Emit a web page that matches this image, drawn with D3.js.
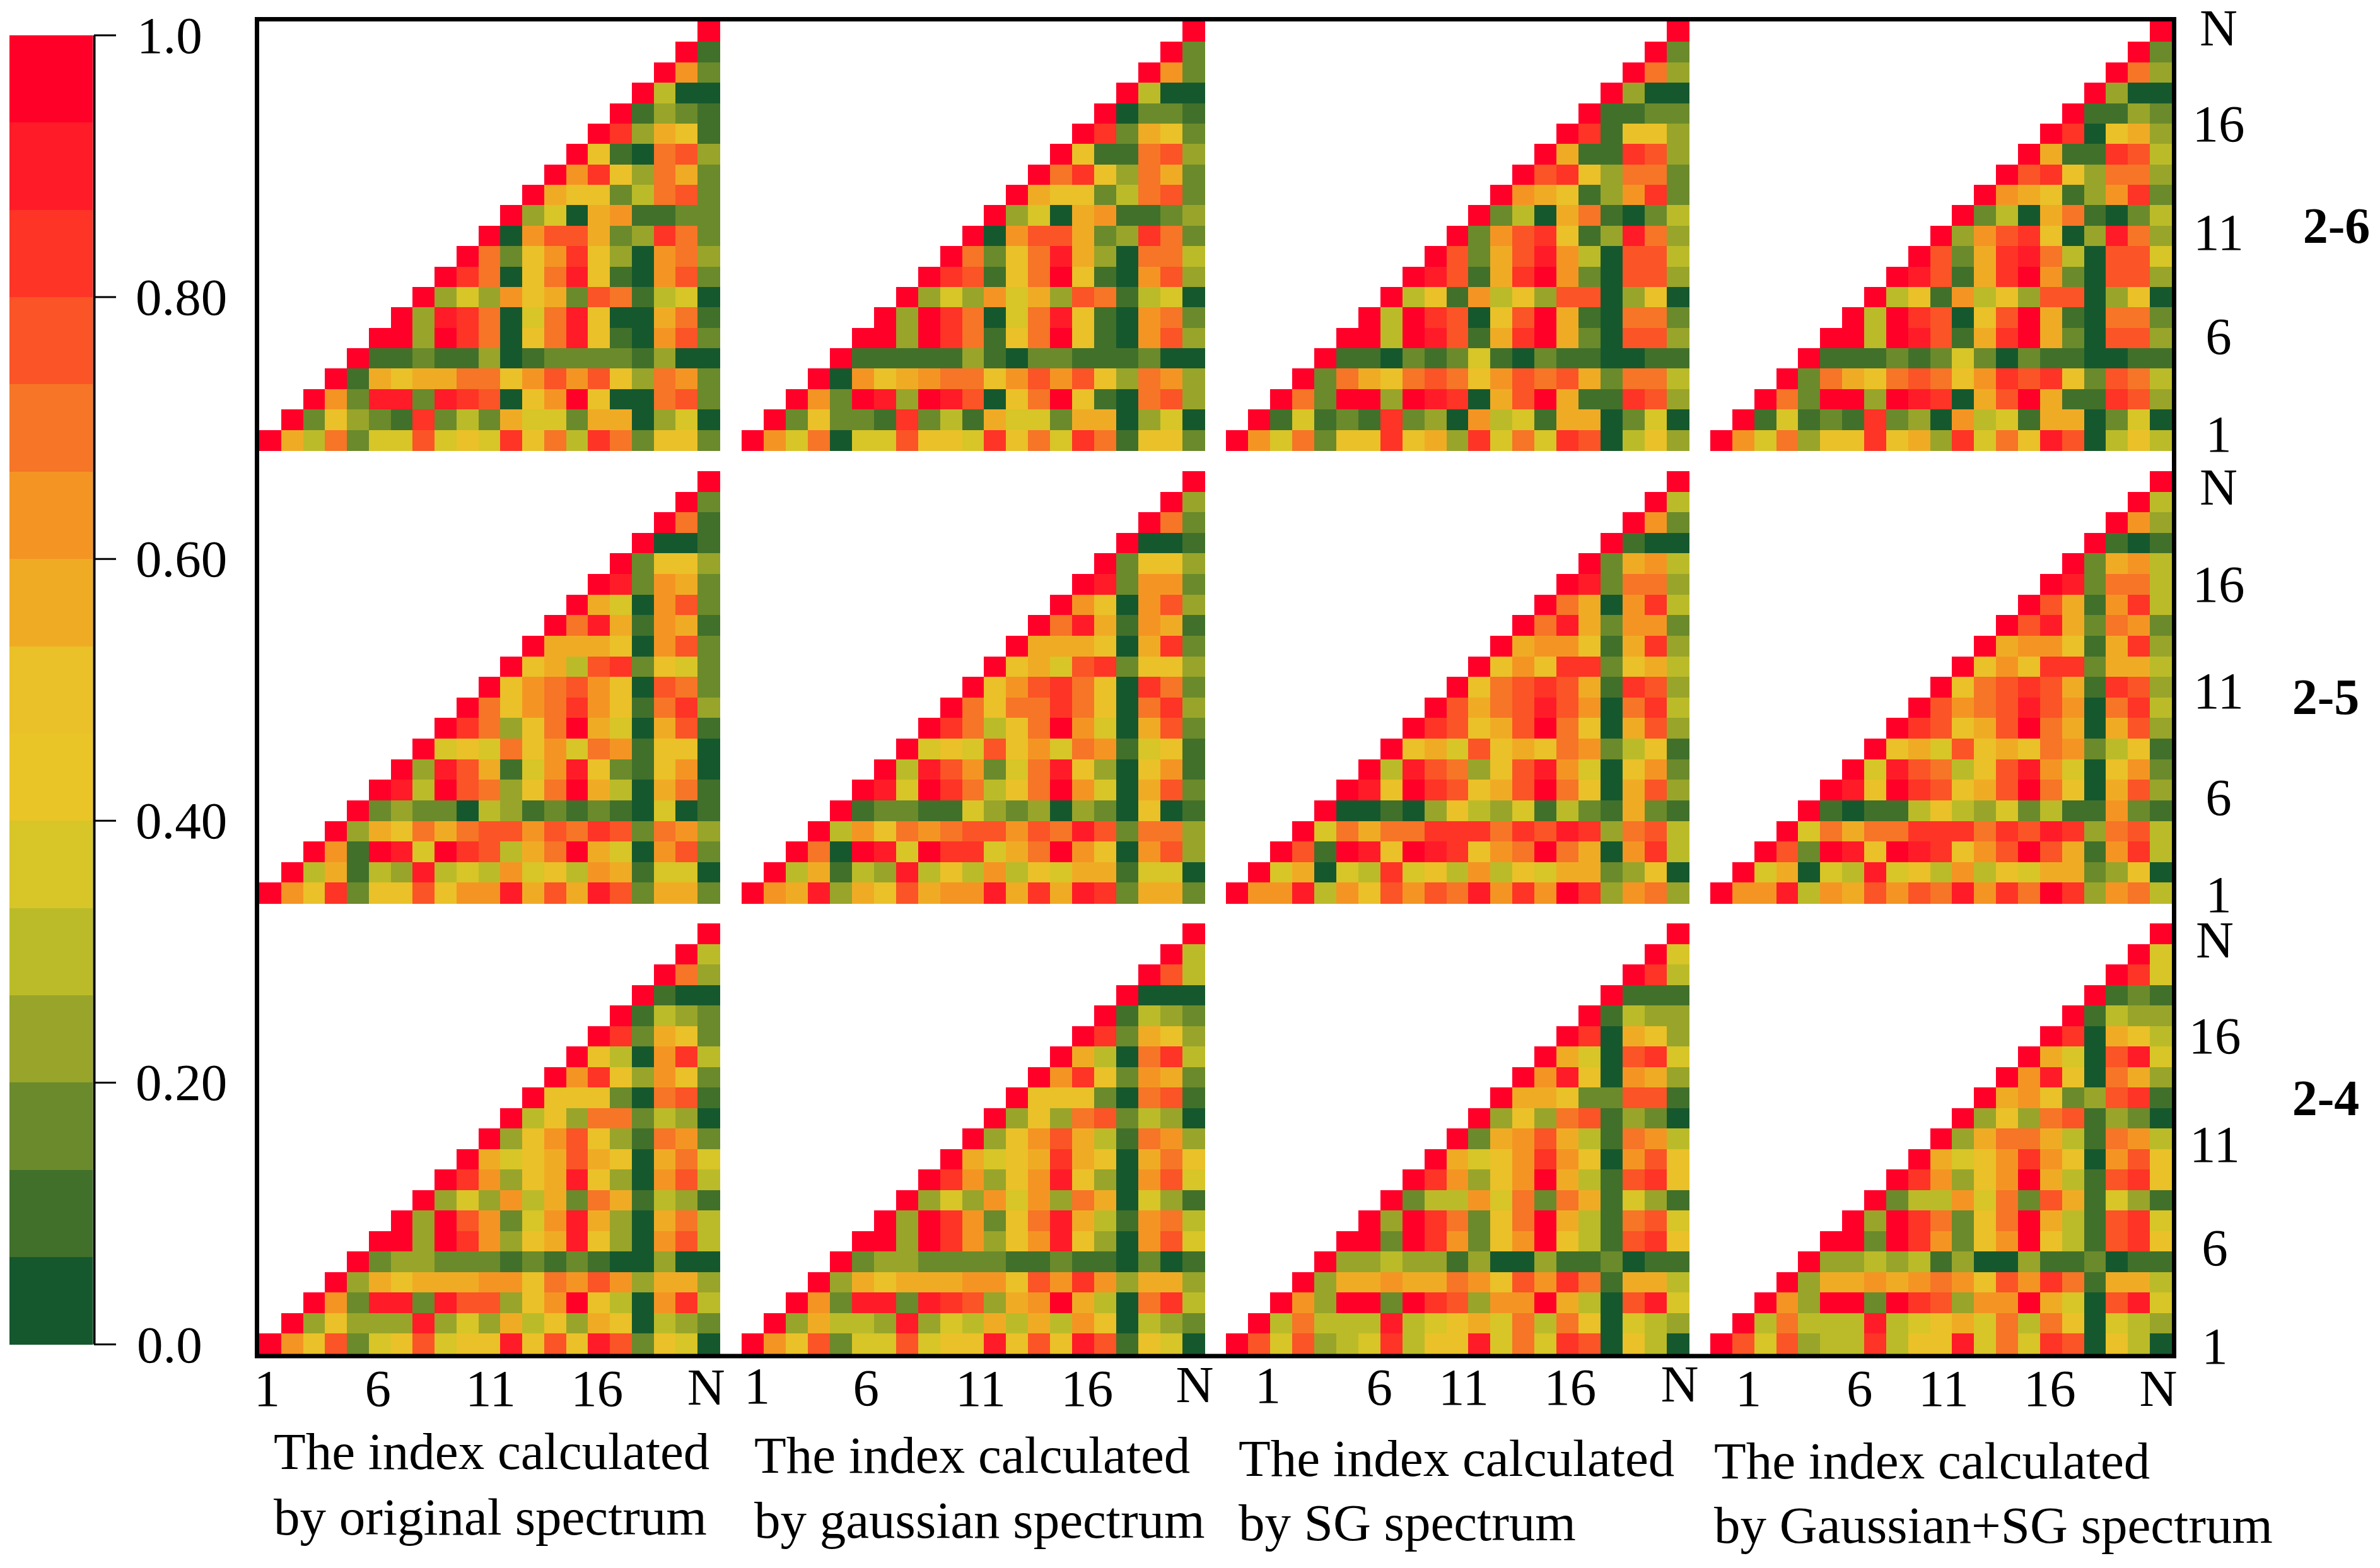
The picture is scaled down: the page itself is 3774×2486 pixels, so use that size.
<!DOCTYPE html>
<html>
<head>
<meta charset="utf-8">
<title>Index heatmaps</title>
<script src="https://cdn.jsdelivr.net/npm/d3@7"></script>
<style>
  html, body { margin: 0; padding: 0; background: #fff; }
  svg { display: block; }
  text { font-family: "Liberation Serif", serif; fill: #000; }
</style>
</head>
<body>
<div id="chart"></div>
<script>
// colour band of each cell (0 = lowest band, 14 = highest band), rows go from N at the top down to 1
const top1 = [[14],[14,1],[14,9,2],[14,4,0,0],[14,1,3,2,1],[14,12,3,8,7,1],[14,7,1,0,10,11,3],[14,9,12,7,3,10,8,2],[14,8,7,7,2,4,10,11,2],[14,3,5,0,8,9,1,1,2,2],[14,0,9,11,11,8,2,3,12,10,2],[14,10,2,7,9,12,7,3,0,9,10,3],[14,12,10,0,7,10,13,7,1,0,9,11,2],[14,3,5,3,9,7,8,2,11,10,1,4,5,0],[14,3,13,12,10,0,5,10,13,7,0,0,8,10,1],[14,14,3,14,12,10,0,7,10,13,7,1,0,9,11,2],[14,1,1,2,1,1,3,0,1,2,2,2,2,1,3,0,0],[14,1,8,7,8,8,10,10,7,9,11,9,11,7,3,10,9,2],[14,9,2,13,13,2,13,12,11,0,7,9,14,7,0,0,10,11,2],[14,2,7,3,2,1,12,2,4,2,8,5,5,2,8,8,0,3,5,0],[14,8,4,10,2,5,5,11,5,7,5,12,7,10,4,12,10,2,7,7,2]];
const top2 = [[14],[14,2],[14,9,2],[14,4,0,0],[14,0,2,2,1],[14,12,2,8,7,2],[14,7,1,1,10,11,3],[14,10,12,7,3,10,8,2],[14,8,7,7,2,4,10,11,2],[14,3,5,0,8,9,1,1,2,3],[14,0,9,11,11,8,2,3,12,10,2],[14,10,2,7,10,13,8,3,0,10,10,4],[14,12,11,1,7,10,14,7,1,0,9,11,3],[14,3,5,3,9,5,8,3,11,10,1,4,5,0],[14,3,14,12,10,0,5,10,13,7,1,0,9,10,2],[14,14,3,14,12,10,1,7,10,14,7,1,0,9,11,3],[14,1,1,1,1,1,3,1,0,2,2,1,1,1,2,0,0],[14,0,9,7,8,9,10,10,7,9,11,9,11,7,3,10,9,3],[14,9,2,14,13,3,14,13,11,0,7,10,14,7,1,0,10,11,3],[14,2,7,2,2,1,12,2,4,1,8,5,5,2,8,8,0,3,5,0],[14,9,5,10,0,5,5,11,7,7,5,12,7,10,5,12,10,1,7,7,2]];
const top3 = [[14],[14,2],[14,10,3],[14,3,0,0],[14,1,1,2,2],[14,12,1,7,7,3],[14,8,1,1,12,11,3],[14,11,12,7,3,10,10,2],[14,9,8,7,1,3,9,12,2],[14,2,4,0,8,10,1,0,2,4],[14,2,9,11,12,7,1,3,13,10,3],[14,11,2,8,11,13,9,4,0,11,11,4],[14,13,11,1,8,12,14,9,2,0,11,11,3],[14,4,7,1,9,4,7,3,11,11,0,3,7,0],[14,4,14,12,11,0,7,11,14,8,1,0,10,10,2],[14,14,4,14,13,11,1,8,12,14,8,2,0,11,11,3],[14,1,1,0,2,1,2,5,1,0,2,1,1,0,0,1,1],[14,2,10,8,7,10,11,10,7,9,11,10,11,8,2,10,10,4],[14,10,2,14,14,3,14,13,12,0,8,11,14,8,1,1,12,11,3],[14,1,5,1,2,1,12,2,3,0,9,4,5,1,8,8,0,2,5,0],[14,9,5,10,2,7,7,12,7,8,3,12,5,10,5,12,11,0,4,7,3]];
const top4 = [[14],[14,2],[14,10,3],[14,3,0,0],[14,1,1,3,2],[14,12,0,7,8,3],[14,8,1,1,12,11,4],[14,11,12,7,3,10,10,3],[14,9,8,7,1,3,9,12,2],[14,2,4,0,8,10,1,0,2,4],[14,3,9,11,12,7,0,3,13,10,3],[14,11,2,8,12,13,10,4,0,11,11,5],[14,13,11,1,8,12,14,9,2,0,11,11,3],[14,4,7,1,9,4,7,3,11,11,0,3,7,0],[14,4,14,12,11,0,7,11,14,8,1,0,10,10,2],[14,14,4,14,13,11,1,8,12,14,8,2,0,11,11,3],[14,1,1,1,2,1,2,5,2,0,2,1,1,0,0,1,1],[14,2,10,8,7,10,11,10,7,9,12,11,12,7,2,11,10,4],[14,10,2,14,14,3,14,13,12,0,8,11,14,8,1,1,12,11,3],[14,1,5,1,2,1,12,2,3,0,9,4,5,1,8,8,0,2,5,0],[14,9,5,10,3,7,7,12,7,8,3,12,5,10,7,13,11,0,4,7,4]];

const mid1 = [[14],[14,2],[14,10,1],[14,0,0,1],[14,2,7,7,3],[14,13,2,9,8,2],[14,8,5,0,9,11,2],[14,10,13,8,1,9,8,1],[14,8,8,8,7,0,9,11,2],[14,7,8,4,11,12,2,7,5,2],[14,7,9,10,11,9,7,0,11,10,2],[14,10,7,9,10,12,9,7,1,10,12,3],[14,12,10,3,7,10,14,8,5,0,8,11,1],[14,5,7,5,10,7,9,5,10,9,1,7,7,0],[14,3,13,11,8,1,5,9,13,7,2,1,7,9,0],[14,13,4,14,11,10,3,7,10,14,8,4,0,8,10,1],[14,2,3,2,2,0,4,3,1,2,1,2,1,0,5,0,1],[14,3,8,7,10,8,10,11,11,9,11,10,12,11,2,10,9,3],[14,9,1,14,13,5,14,12,11,4,8,10,14,8,5,0,9,11,2],[14,4,8,1,4,3,13,4,5,4,9,5,7,4,9,8,1,5,5,0],[14,9,7,12,2,7,7,11,7,9,9,13,8,11,8,13,11,2,8,8,2]];
const mid2 = [[14],[14,3],[14,10,2],[14,0,0,1],[14,2,7,7,3],[14,13,2,9,9,2],[14,9,7,0,9,11,3],[14,10,13,8,1,9,8,1],[14,8,8,8,7,0,8,12,2],[14,7,8,5,11,12,2,7,7,3],[14,7,9,11,12,10,7,0,12,10,2],[14,10,7,10,10,12,10,7,0,10,12,3],[14,12,10,4,7,10,14,9,5,0,8,11,2],[14,5,7,5,11,7,9,5,10,9,1,5,7,1],[14,4,13,11,9,2,5,10,13,7,3,0,7,9,1],[14,13,5,14,12,10,4,7,10,14,9,5,0,8,11,2],[14,1,2,2,1,1,5,3,2,3,0,3,2,0,7,0,1],[14,4,9,7,10,9,10,11,11,9,11,10,13,11,2,10,10,3],[14,10,0,14,13,5,14,12,12,5,8,10,14,9,7,0,9,11,3],[14,4,8,1,4,3,13,4,7,4,9,4,7,5,8,8,1,5,5,0],[14,9,8,13,3,8,7,11,8,9,9,13,8,12,8,13,12,2,8,8,2]];
const mid3 = [[14],[14,4],[14,9,2],[14,1,0,0],[14,2,8,9,4],[14,13,2,10,10,3],[14,10,8,0,9,12,4],[14,10,13,8,2,9,9,2],[14,8,9,9,7,1,8,12,3],[14,7,9,7,12,12,2,7,8,4],[14,7,10,11,12,11,8,1,12,11,3],[14,11,8,10,11,13,11,9,0,10,12,4],[14,12,11,7,8,11,14,10,7,0,8,11,3],[14,7,8,5,11,7,8,7,10,9,2,4,7,1],[14,4,13,11,10,3,7,11,13,9,5,0,7,9,2],[14,13,7,14,12,11,7,8,11,14,10,7,0,8,11,3],[14,0,0,1,0,3,7,4,3,5,1,4,2,1,8,2,1],[14,5,10,8,10,10,12,12,12,10,12,11,13,12,3,10,11,4],[14,11,1,14,13,7,14,13,12,7,9,10,14,10,8,0,9,12,4],[14,5,8,0,5,4,12,5,7,4,9,4,7,5,8,8,2,3,7,0],[14,9,9,13,4,9,7,11,9,11,10,13,9,12,9,14,12,3,9,10,3]];
const mid4 = [[14],[14,4],[14,9,3],[14,1,0,1],[14,2,8,9,4],[14,13,2,10,10,4],[14,11,8,1,9,12,4],[14,11,13,8,2,10,9,2],[14,8,9,9,7,1,8,12,3],[14,7,9,7,12,12,2,8,8,4],[14,7,10,11,12,11,8,1,12,11,3],[14,11,9,10,11,13,11,9,0,10,12,4],[14,12,11,7,8,11,14,10,8,0,8,11,3],[14,7,8,5,11,7,8,7,10,9,2,4,7,1],[14,5,13,11,10,4,7,11,13,9,5,0,7,9,2],[14,13,7,14,12,11,7,8,11,14,10,7,0,8,11,3],[14,1,0,1,1,4,7,4,3,5,2,4,1,1,9,2,1],[14,5,10,8,10,10,12,12,12,10,12,11,13,12,3,10,11,4],[14,11,2,14,13,7,14,13,12,7,9,11,14,11,8,1,9,12,4],[14,5,8,0,5,4,13,5,7,4,9,4,7,5,8,8,2,3,7,0],[14,9,9,13,4,9,8,11,9,11,10,13,9,12,10,14,12,3,9,10,4]];

const low1 = [[14],[14,4],[14,10,3],[14,1,0,0],[14,1,4,3,2],[14,12,2,8,7,2],[14,7,4,0,9,12,4],[14,9,12,7,3,9,7,2],[14,7,7,7,2,0,10,11,1],[14,4,7,3,10,10,2,4,3,0],[14,3,7,9,11,7,3,1,10,9,2],[14,8,5,7,8,11,8,7,0,8,10,5],[14,12,9,3,7,8,13,7,3,0,9,11,4],[14,3,5,3,9,4,8,2,10,8,1,4,3,1],[14,3,14,11,9,2,5,9,13,8,3,0,8,10,4],[14,14,3,14,12,9,3,7,8,13,7,3,0,9,11,4],[14,2,3,3,2,2,2,1,2,1,2,1,0,0,3,0,0],[14,3,8,7,8,8,8,9,9,7,10,9,11,9,3,8,8,3],[14,9,2,13,13,2,13,11,11,3,7,9,14,7,4,0,9,12,4],[14,3,7,3,3,3,13,3,5,3,8,4,7,3,8,7,0,4,3,2],[14,9,7,11,2,5,7,11,5,7,7,13,7,11,7,13,11,2,7,5,0]];
const low2 = [[14],[14,4],[14,11,4],[14,0,0,0],[14,1,4,3,2],[14,12,2,8,7,3],[14,8,4,0,10,12,4],[14,9,12,7,2,9,8,2],[14,7,7,7,2,0,10,11,1],[14,3,7,3,10,11,2,4,3,0],[14,3,7,9,11,8,4,1,10,9,3],[14,8,5,7,8,12,8,7,0,8,10,7],[14,12,9,3,7,9,13,7,3,0,9,11,5],[14,3,5,3,9,5,9,3,10,8,0,5,3,1],[14,3,14,12,9,2,7,10,13,8,4,1,9,10,4],[14,14,3,14,12,9,3,7,9,13,7,3,0,9,11,5],[14,2,3,3,2,2,2,2,1,1,2,1,1,0,2,0,1],[14,3,8,7,8,8,8,9,9,7,11,9,12,9,3,8,8,3],[14,9,2,13,13,2,13,12,11,3,8,9,14,8,4,0,10,12,4],[14,3,8,4,4,3,13,3,5,4,8,4,8,4,9,7,0,4,3,2],[14,9,7,11,2,5,5,11,5,7,7,13,7,11,7,13,11,1,7,5,0]];
const low3 = [[14],[14,5],[14,12,4],[14,1,1,1],[14,1,4,3,3],[14,12,0,8,7,3],[14,8,5,0,11,12,5],[14,9,13,7,0,9,8,3],[14,8,8,7,2,2,11,11,1],[14,3,7,3,10,11,1,3,2,0],[14,2,8,9,11,8,4,1,10,9,4],[14,8,5,7,9,12,9,7,0,9,11,7],[14,12,9,3,7,9,14,8,4,1,11,12,7],[14,2,4,4,9,5,10,2,10,8,1,5,3,1],[14,3,14,12,10,2,7,10,14,8,4,1,10,11,5],[14,14,2,14,12,9,2,7,9,14,7,4,1,11,12,7],[14,3,3,4,3,3,1,3,0,0,3,1,1,2,0,1,1],[14,3,8,8,9,8,8,10,9,7,11,9,12,10,1,8,8,4],[14,9,3,14,14,2,14,12,11,3,9,9,14,8,4,0,11,13,5],[14,4,10,4,4,4,13,4,5,7,8,5,10,4,10,7,0,5,4,3],[14,11,5,11,3,4,5,12,4,7,7,13,5,10,5,12,11,0,7,4,0]];
const low4 = [[14],[14,5],[14,12,5],[14,1,2,1],[14,1,4,3,3],[14,12,0,8,7,4],[14,8,5,0,11,13,5],[14,9,13,7,0,10,8,3],[14,8,9,7,2,3,11,12,1],[14,3,7,3,10,11,1,3,2,0],[14,3,8,10,10,8,4,1,10,9,4],[14,8,5,7,9,12,9,7,0,9,11,7],[14,12,9,3,7,9,14,8,4,1,11,12,7],[14,2,4,4,9,5,10,2,11,8,1,5,3,1],[14,3,14,12,10,2,7,10,14,8,4,1,11,12,5],[14,14,2,14,12,9,2,7,9,14,7,4,1,11,12,7],[14,3,3,4,3,4,1,3,0,0,3,1,1,2,0,1,1],[14,3,8,8,9,8,9,10,9,7,11,9,12,10,1,8,8,4],[14,9,3,14,14,2,14,12,11,3,9,9,14,8,5,0,11,13,5],[14,4,10,4,4,4,13,4,5,7,8,5,10,4,10,7,0,5,4,3],[14,11,5,11,3,4,4,12,4,7,7,13,5,10,5,12,11,0,7,4,0]];

const panels = [top1, top2, top3, top4, mid1, mid2, mid3, mid4, low1, low2, low3, low4];

const bandColors = ['#16582e', '#41702b', '#6b8a2b', '#98a52a', '#bbbb29', '#d8c528', '#eac528', '#eac128', '#f0ab25', '#f49523', '#f67527', '#fb5426', '#fe3426', '#ff1c28', '#ff0029'];
const legendTicks = [0, 0.2, 0.4, 0.6, 0.8, 1];
const legendLabels = ['0.0', '0.20', '0.40', '0.60', '0.80', '1.0'];
const indexTicks = [1, 6, 11, 16, 21];
const indexLabels = ['1', '6', '11', '16', 'N'];
const rowTitles = ['2-6', '2-5', '2-4'];
const captionsA = ['The index calculated', 'The index calculated', 'The index calculated', 'The index calculated'];
const captionsB = ['by original spectrum', 'by gaussian spectrum', 'by SG spectrum', 'by Gaussian+SG spectrum'];

const width = 3774, height = 2486;
const colEdges = [[411, 1141], [1176, 1910], [1944, 2678], [2712, 3444]];
const rowEdges = [[34, 714], [747, 1432], [1464, 2147]];
const xNudge = [[-5, -3, 2, -3, -4], [7, 5, 12, 6, 2], [49, 51, 10, 4, 3], [43, 45, 4, -2, -4]];
const xBase = [[2229, 2229, 2229, 2229, 2227], [2225, 2228, 2229, 2229, 2223], [2224, 2227, 2227, 2227, 2222], [2229, 2229, 2229, 2229, 2229]];
const yNudge = [[-10, -3, -6, -16, -6], [2, 11, 5, 0, 9], [3, 10, 8, -1, 10]];
const sideX = [3518, 3518, 3512];
const titlePos = [[3705, 385], [3688, 1132], [3688, 1768]];
const captionPos = [[434, 2329, 2433], [1196, 2335, 2438], [1964, 2340, 2442], [2718, 2344, 2446]];
const fontSize = 83;

const svg = d3.select('#chart').append('svg')
    .attr('width', width)
    .attr('height', height)
    .style('background', '#fff');

const color = d3.scaleOrdinal().domain(d3.range(15)).range(bandColors);
const indices = d3.range(1, 22);

// the 12 triangles
panels.forEach((rows, p) => {
    const col = p % 4, row = Math.floor(p / 4);
    const x = d3.scaleBand().domain(indices).range(colEdges[col]);
    const y = d3.scaleBand().domain(indices.slice().reverse()).range(rowEdges[row]);

    // row i starts at the diagonal
    const cells = rows.flatMap((vals, i) => vals.map((v, j) => ({ r: 21 - i, c: 21 - i + j, v })));

    svg.append('g').selectAll('rect')
        .data(cells)
        .enter()
        .append('rect')
        .attr('x', d => x(d.c))
        .attr('y', d => y(d.r))
        .attr('width', x.bandwidth() + 0.5)
        .attr('height', y.bandwidth() + 0.5)
        .attr('fill', d => color(d.v))
        .attr('shape-rendering', 'crispEdges');

    // index labels under the bottom row and right of the last column
    if (row === 2) {
        const ax = svg.append('g')
            .call(d3.axisBottom(x).tickValues(indexTicks).tickFormat((d, i) => indexLabels[i]).tickSize(0));
        ax.select('.domain').remove();
        ax.selectAll('text')
            .attr('dx', (d, i) => xNudge[col][i])
            .attr('dy', 0)
            .attr('y', (d, i) => xBase[col][i])
            .style('font-family', '"Liberation Serif", serif')
            .style('font-size', fontSize + 'px');
    }
    if (col === 3) {
        const ax = svg.append('g')
            .call(d3.axisRight(y).tickValues(indexTicks).tickFormat((d, i) => indexLabels[i]).tickSize(0));
        ax.select('.domain').remove();
        ax.selectAll('text')
            .attr('x', sideX[row])
            .attr('dy', 0)
            .attr('text-anchor', 'middle')
            .attr('transform', (d, i) => `translate(0, ${28 + yNudge[row][i]})`)
            .style('font-family', '"Liberation Serif", serif')
            .style('font-size', fontSize + 'px');
    }
});

// outer frame
svg.append('rect')
    .attr('x', 407.5)
    .attr('y', 30.5)
    .attr('width', 3040)
    .attr('height', 2119.5)
    .attr('fill', 'none')
    .attr('stroke', '#000')
    .attr('stroke-width', 7);

// colour legend
const legendY = d3.scaleLinear().domain([0, 1]).range([2131, 55.5]);
const bandH = (legendY(0) - legendY(1)) / 15;
svg.append('g').selectAll('rect')
    .data(d3.range(15))
    .enter()
    .append('rect')
    .attr('x', 15)
    .attr('y', d => legendY((d + 1) / 15))
    .attr('width', 132)
    .attr('height', bandH + 0.5)
    .attr('fill', d => color(d))
    .attr('shape-rendering', 'crispEdges');

const legendAxis = svg.append('g')
    .attr('transform', 'translate(149, 0)')
    .call(d3.axisRight(legendY).tickValues(legendTicks).tickFormat((d, i) => legendLabels[i]).tickSize(35).tickSizeOuter(0));
legendAxis.select('.domain').attr('stroke-width', 4);
legendAxis.selectAll('line').attr('stroke-width', 3);
legendAxis.selectAll('text')
    .attr('x', (d, i) => (legendLabels[i].length === 3 ? 68 : 66))
    .attr('dy', 28)
    .style('font-family', '"Liberation Serif", serif')
    .style('font-size', fontSize + 'px');

// row titles on the right
svg.append('g').selectAll('text')
    .data(rowTitles)
    .enter()
    .append('text')
    .attr('x', (d, i) => titlePos[i][0])
    .attr('y', (d, i) => titlePos[i][1])
    .attr('text-anchor', 'middle')
    .attr('font-size', 80)
    .attr('font-weight', 'bold')
    .text(d => d);

// two line captions under each column
[captionsA, captionsB].forEach((lines, k) => {
    svg.append('g').selectAll('text')
        .data(lines)
        .enter()
        .append('text')
        .attr('x', (d, i) => captionPos[i][0])
        .attr('y', (d, i) => captionPos[i][k + 1])
        .attr('font-size', fontSize)
        .text(d => d);
});
</script>
</body>
</html>
